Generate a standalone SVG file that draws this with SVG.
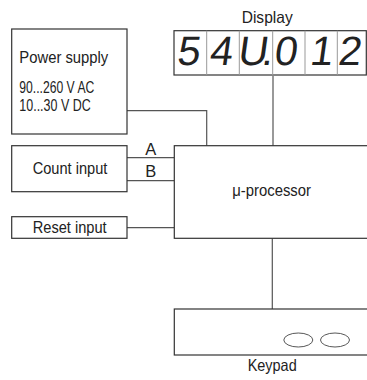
<svg xmlns="http://www.w3.org/2000/svg" width="367" height="380" viewBox="0 0 367 380">
<style>
.box{fill:#fff;stroke:#333;stroke-width:1.2}
.ln{fill:none;stroke:#555;stroke-width:1.2}
.t{font-family:"Liberation Sans",Arial,sans-serif;font-size:16.5px;fill:#222}
.seg{font-family:"Liberation Sans",Arial,sans-serif;font-size:41px;fill:#222}
.cell{fill:none;stroke:#999;stroke-width:1}
</style>
<rect width="367" height="380" fill="#fff"/>
<g id="connectors">
<polyline class="ln" points="127,110.7 206.7,110.7 206.7,145.7"/>
<line class="ln" x1="273" y1="76" x2="273" y2="145.7"/>
<line class="ln" x1="127" y1="157.7" x2="174.3" y2="157.7"/>
<line class="ln" x1="127" y1="180.7" x2="174.3" y2="180.7"/>
<line class="ln" x1="127" y1="227.7" x2="174.3" y2="227.7"/>
<line class="ln" x1="272.3" y1="238.3" x2="272.3" y2="309"/>
<text class="t" x="150.8" y="155" text-anchor="middle">A</text>
<text class="t" x="150.8" y="177" text-anchor="middle">B</text>
</g>
<g id="power">
<rect class="box" x="11.7" y="29" width="115.3" height="105"/>
<text class="t" x="19.3" y="62.7" textLength="89" lengthAdjust="spacingAndGlyphs">Power supply</text>
<text class="t" x="19.3" y="92.7" textLength="75" lengthAdjust="spacingAndGlyphs">90...260 V AC</text>
<text class="t" x="19.3" y="110.7" textLength="71.4" lengthAdjust="spacingAndGlyphs">10...30 V DC</text>
</g>
<g id="display">
<text class="t" x="241.7" y="22.5" textLength="51" lengthAdjust="spacingAndGlyphs">Display</text>
<rect class="box" x="174" y="30.7" width="192.3" height="44.3"/>
<line class="cell" x1="206.7" y1="30.7" x2="206.7" y2="75"/>
<line class="cell" x1="239.3" y1="30.7" x2="239.3" y2="75"/>
<line class="cell" x1="272.7" y1="30.7" x2="272.7" y2="75"/>
<line class="cell" x1="305" y1="30.7" x2="305" y2="75"/>
<line class="cell" x1="337.3" y1="30.7" x2="337.3" y2="75"/>
<g transform="skewX(-8)" class="seg" text-anchor="middle">
<text x="196.7" y="65">5</text>
<text x="229.2" y="65">4</text>
<text x="261" y="65">U</text>
<text x="275.7" y="65">.</text>
<text x="293.7" y="65">0</text>
<text x="329.5" y="65">1</text>
<text x="357.8" y="65">2</text>
</g>
</g>
<g id="count">
<rect class="box" x="11.7" y="145.7" width="115.3" height="46"/>
<text class="t" x="32.7" y="174.3" textLength="74.7" lengthAdjust="spacingAndGlyphs">Count input</text>
</g>
<g id="reset">
<rect class="box" x="11.7" y="216.7" width="115.3" height="21.6"/>
<text class="t" x="32.7" y="232.5" textLength="74" lengthAdjust="spacingAndGlyphs">Reset input</text>
</g>
<g id="processor">
<rect class="box" x="174.3" y="145.7" width="200" height="92.6"/>
<text class="t" x="232.3" y="196" textLength="78.7" lengthAdjust="spacingAndGlyphs">μ-processor</text>
</g>
<g id="keypad">
<rect class="box" x="174.3" y="309" width="200" height="46"/>
<ellipse cx="298.3" cy="340" rx="14.5" ry="7" fill="none" stroke="#444" stroke-width="0.9"/>
<ellipse cx="335" cy="340" rx="14.5" ry="7" fill="none" stroke="#444" stroke-width="0.9"/>
<text class="t" x="247.7" y="371" textLength="49" lengthAdjust="spacingAndGlyphs">Keypad</text>
</g>
</svg>
